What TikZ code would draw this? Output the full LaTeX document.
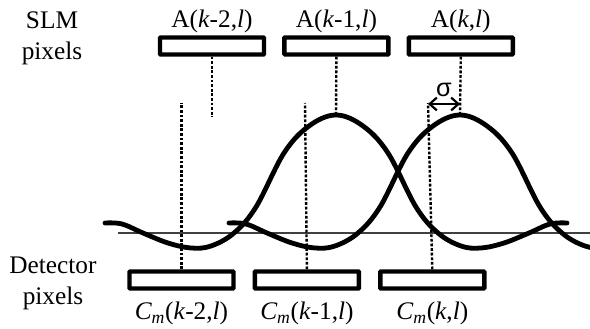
\documentclass[tikz,border=0pt]{standalone}
\usepackage{fontspec}
\setmainfont{Liberation Serif}
\newfontfamily\sgfont{Liberation Sans}
\usetikzlibrary{arrows.meta,positioning}

\begin{document}
\begin{tikzpicture}[x=0.25mm,y=-0.25mm,
    pixbox/.style={draw=black,fill=white,line width=1.1mm,minimum width=26mm,
      minimum height=4.25mm,inner sep=0pt,rounded corners=0.5pt},
    lbl/.style={font=\fontsize{18}{22}\selectfont,inner sep=0pt},
    side/.style={lbl,align=center},
    guide/.style={line width=0.6mm,dash pattern=on 0.7mm off 0.45mm},
    wave/.style={line width=1.2mm,line join=round,line cap=round},
    axis/.style={line width=0.3mm,black!75},
    span/.style={{Straight Barb[length=1.8mm,width=3.2mm]}-{Straight Barb[length=1.8mm,width=3.2mm]},
      line width=0.55mm}
  ]
  \clip (0,0) rectangle (590,329);

  % SLM and detector pixels
  \node[pixbox] (slm1) at (212,46) {};
  \node[pixbox,right=4mm of slm1] (slm2) {};
  \node[pixbox,right=4mm of slm2] (slm3) {};
  \node[pixbox] (det1) at (181.5,280) {};
  \node[pixbox,right=4.25mm of det1] (det2) {};
  \node[pixbox,right=4.25mm of det2] (det3) {};

  \node[lbl,above=0.6mm of slm1] (a1) {A(\textit{k}-2,\textit{l})};
  \node[lbl,above=0.6mm of slm2] (a2) {A(\textit{k}-1,\textit{l})};
  \node[lbl,above=0.6mm of slm3] (a3) {A(\textit{k},\textit{l})};
  \node[lbl,below=2.75mm of det1] (c1) {\textit{C\textsubscript{m}}(\textit{k}-2,\textit{l})};
  \node[lbl,below=2.75mm of det2] (c2) {\textit{C\textsubscript{m}}(\textit{k}-1,\textit{l})};
  \node[lbl,below=2.75mm of det3] (c3) {\textit{C\textsubscript{m}}(\textit{k},\textit{l})};

  \node[side] (slmtxt) at (52,38) {SLM\\pixels};
  \node[side] (dettxt) at (53,283) {Detector\\pixels};

  % zero line and the two responses
  \coordinate (axl) at (118,233);
  \coordinate (axr) at (590,233);
  \draw[axis] (axl) -- (axr);
  \foreach \c in {336,460}{
    \draw[wave,shift={(\c,233)}] plot[smooth,tension=0.6] coordinates {
      (-231,-10) (-214,-9) (-193,0) (-168,10) (-145,15) (-125,13) (-102,0)
      (-80,-26) (-52,-80) (-27,-107) (0,-118) (27,-107) (52,-80) (80,-26)
      (102,0) (125,13) (145,15) (168,10) (193,0) (214,-9) (231,-10)};
  }

  % guide lines
  \coordinate (t1) at (212,117);
  \coordinate (pk1) at (336,115);
  \coordinate (pk2) at (460,115);
  \coordinate (b1) at (181.5,103);
  \coordinate (b2) at (305,103);
  \coordinate (b3) at (428,103);
  \draw[guide] (slm1.south) -- (t1);
  \draw[guide] (slm2.south) -- (pk1);
  \draw[guide] (slm3.south) -- (pk2);
  \draw[guide] (det1.north) -- (b1);
  \draw[guide] (det2.north) -- (b2);
  \draw[guide] (det3.north) -- (b3);

  % spread
  \coordinate (sgl) at (428,104);
  \coordinate (sgr) at (460,104);
  \draw[span] (sgl) -- (sgr);
  \node[lbl,anchor=base] (sg) at (444,97) {\sgfont σ};
\end{tikzpicture}
\end{document}
